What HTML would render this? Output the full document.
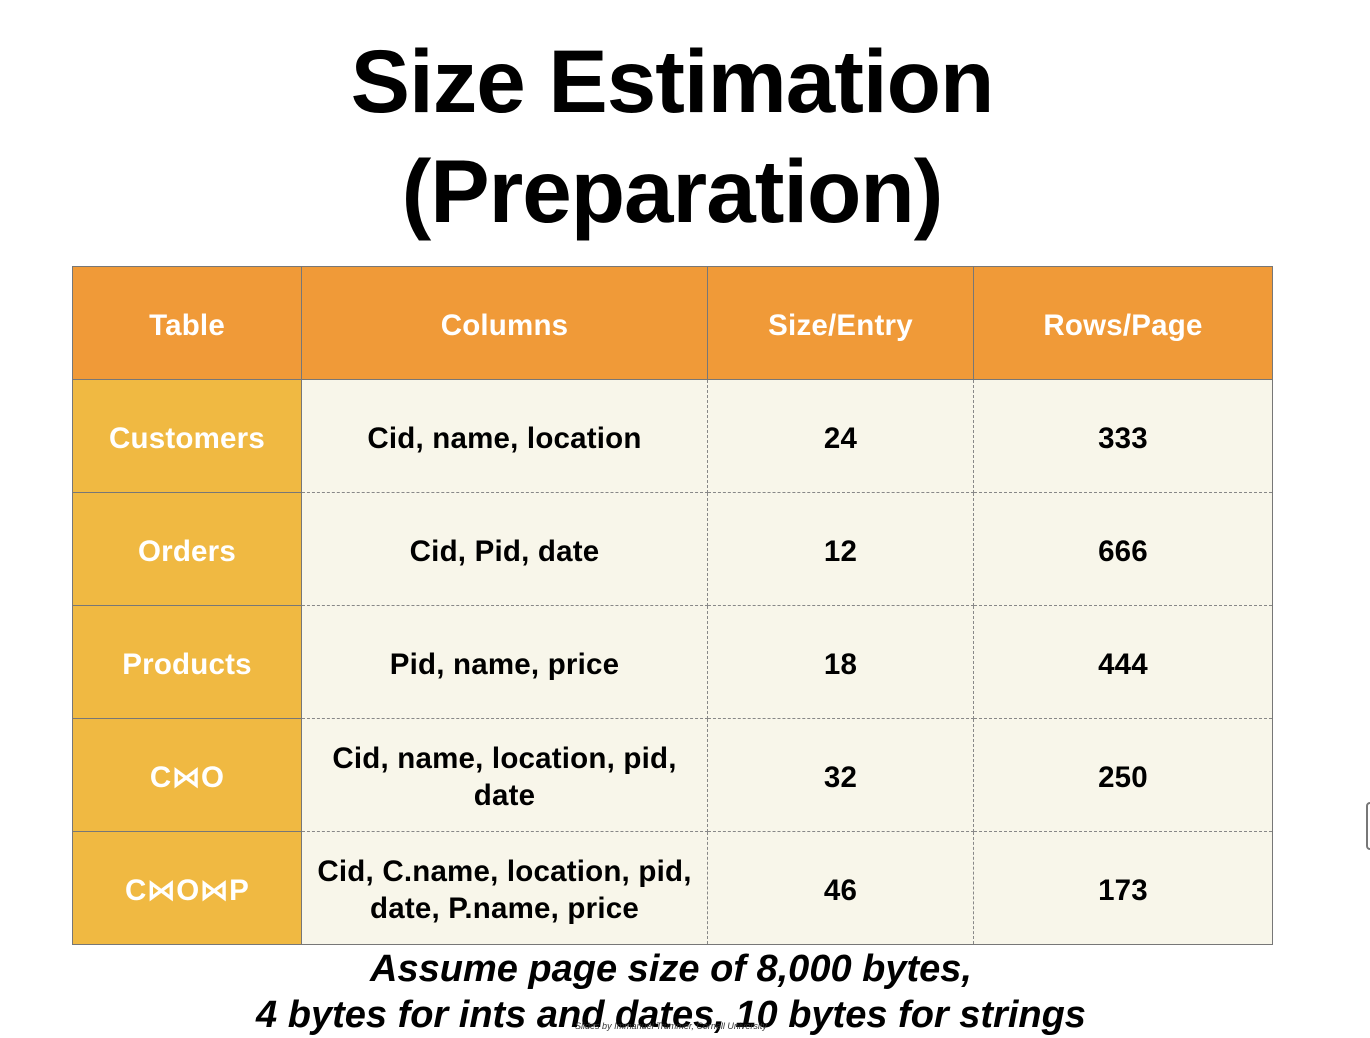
<!DOCTYPE html>
<html><head><meta charset="utf-8"><style>
body{margin:0;width:1370px;height:1038px;background:#fff;font-family:"Liberation Sans","DejaVu Sans",sans-serif;position:relative;overflow:hidden}
h1{position:absolute;left:-13px;width:1370px;top:26px;margin:0;text-align:center;font-size:89px;line-height:110px;font-weight:bold;color:#000;letter-spacing:-1px}
table{position:absolute;left:72px;top:266px;border-collapse:collapse;table-layout:fixed}
td,th{text-align:center;font-weight:bold;font-size:29.5px;line-height:37px;padding:4px 0 0 0;height:108px;box-sizing:border-box;letter-spacing:0.2px}
th{background:#F09A38;color:#fff;border:1px solid #777}
td{background:#F8F6EA;color:#000;border:1px dashed #888}
td.n{background:#F0B942;color:#fff;border:1px solid #777}
tr:last-child td{border-bottom:1px solid #777}
td:last-child,th:last-child{border-right:1px solid #777}
.f{position:absolute;left:-14px;width:1370px;text-align:center;font-style:italic;font-weight:bold;font-size:38px;color:#000}
.c{position:absolute;left:-14px;width:1370px;top:1021px;text-align:center;font-size:9px;font-style:italic;color:#333}
.tab{position:absolute;left:1366px;top:802px;width:6px;height:44px;border:2px solid #777;border-radius:4px}
</style></head><body>
<h1>Size Estimation<br>(Preparation)</h1>
<table>
<colgroup><col style="width:229px"><col style="width:406px"><col style="width:266px"><col style="width:299px"></colgroup>
<tr style="height:113px"><th>Table</th><th>Columns</th><th>Size/Entry</th><th>Rows/Page</th></tr>
<tr style="height:113px"><td class="n">Customers</td><td>Cid, name, location</td><td>24</td><td>333</td></tr>
<tr style="height:113px"><td class="n">Orders</td><td>Cid, Pid, date</td><td>12</td><td>666</td></tr>
<tr style="height:113px"><td class="n">Products</td><td>Pid, name, price</td><td>18</td><td>444</td></tr>
<tr style="height:113px"><td class="n">C⋈O</td><td>Cid, name, location, pid,<br>date</td><td>32</td><td>250</td></tr>
<tr style="height:113px"><td class="n">C⋈O⋈P</td><td>Cid, C.name, location, pid,<br>date, P.name, price</td><td>46</td><td>173</td></tr>
</table>
<div class="f" style="top:948px">Assume page size of 8,000 bytes,</div>
<div class="f" style="top:994px">4 bytes for ints and dates, 10 bytes for strings</div>
<div class="c">Slides by Immanuel Trummer, Cornell University</div>
<div class="tab"></div>
</body></html>
